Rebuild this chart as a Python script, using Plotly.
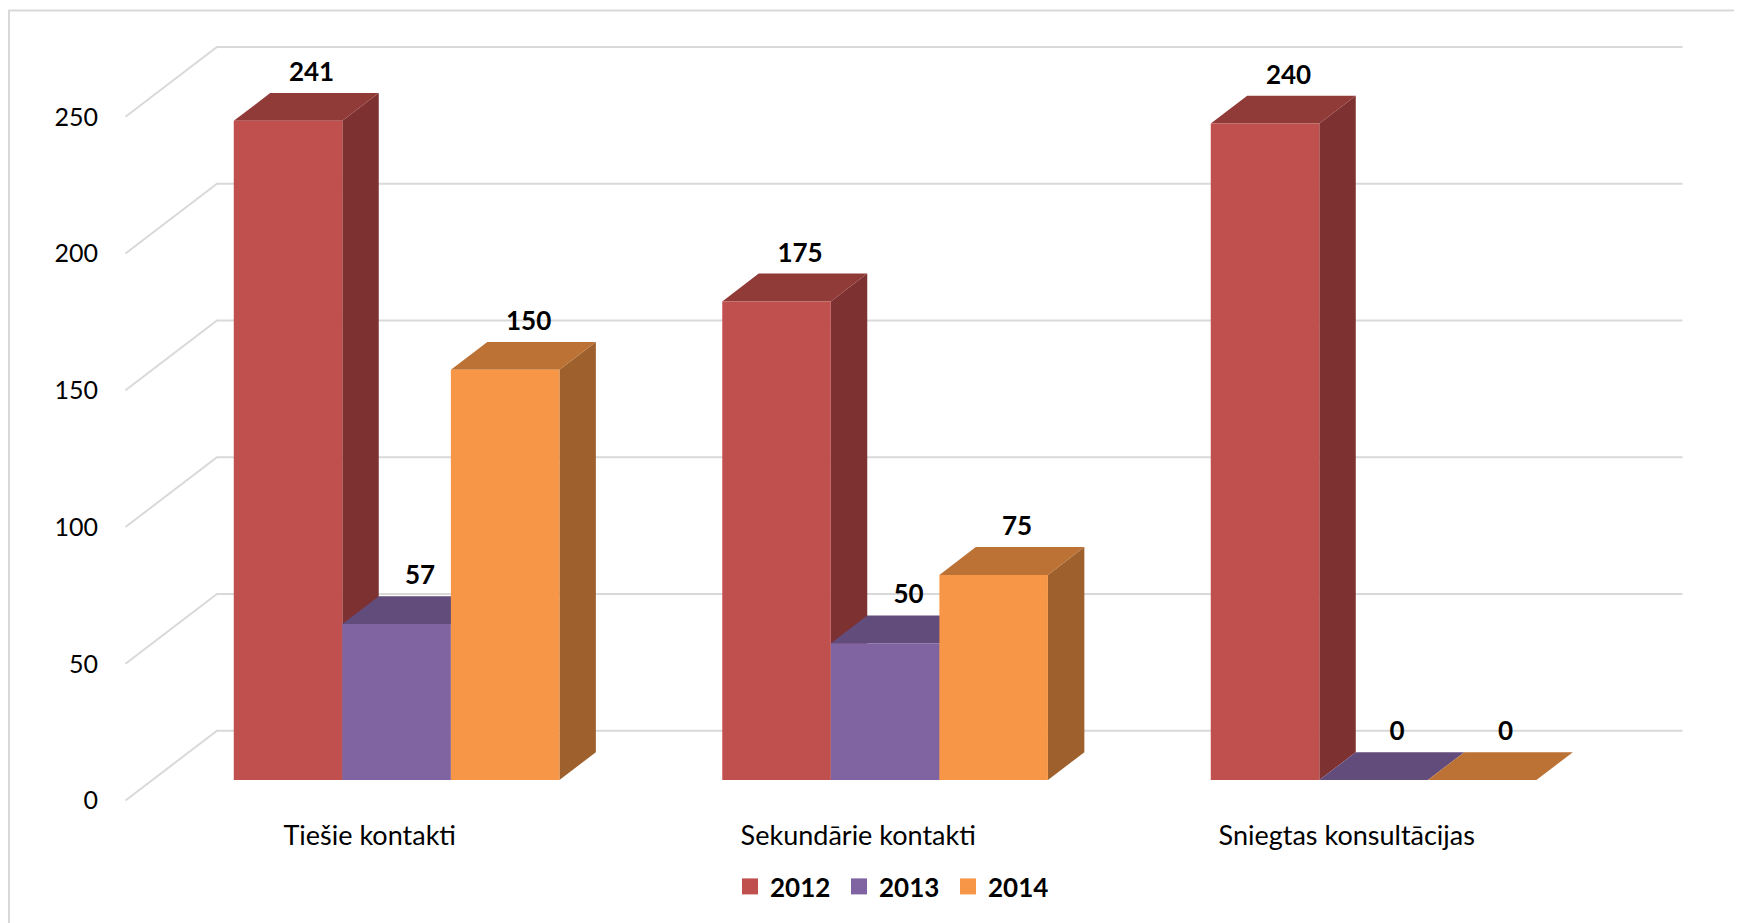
import plotly.graph_objects as go

# ---------------- data ----------------
categories = ["Tiešie kontakti", "Sekundārie kontakti", "Sniegtas konsultācijas"]
series_names = ["2012", "2013", "2014"]
values_2012 = [241, 175, 240]
values_2013 = [57, 50, 0]
values_2014 = [150, 75, 0]
y_ticks = [0, 50, 100, 150, 200, 250]
y_tick_labels = ["0", "50", "100", "150", "200", "250"]

# ---------------- style ----------------
front_colors = ["#C0504D", "#8064A2", "#F79646"]
top_colors = ["#913B39", "#624C7C", "#BC7234"]
side_colors = ["#7D3130", "#53406B", "#9E602C"]
grid_color = "#D9D9D9"
FONT = "Lato, 'Open Sans', sans-serif"

W, H = 1742, 923
OFF = 8            # page margin offset of the figure inside the window
K = 2.735          # pixels per value unit
Y0PX = 800.5       # pixel row of value 0 on the front plane (window coords)
SLANT = 1.31       # horizontal px per vertical px of depth
AX0 = 125.5        # left of category axis (front plane)
AXW = 488.5        # width of one category (front plane)
BW = AXW / 4.5     # bar width (gap width 150%)
D_BAR_F = 20.5     # depth (px) of bar front faces
D_BAR_B = 48.3     # depth (px) of bar back faces
D_WALL = 69.8      # depth (px) of back wall


def proj(x, v, d):
    return x + d * SLANT, v + d / K


series_values = [values_2012, values_2013, values_2014]

fig = go.Figure()

# gridlines (floor diagonal + back wall)
gx, gy = [], []
for v in y_ticks:
    for (px, pv, pd) in [(AX0, v, 0), (AX0, v, D_WALL), (AX0 + 3 * AXW, v, D_WALL)]:
        X, Y = proj(px, pv, pd)
        gx.append(X)
        gy.append(Y)
    gx.append(None)
    gy.append(None)
fig.add_trace(go.Scatter(x=gx, y=gy, mode="lines", line=dict(color=grid_color, width=2),
                         hoverinfo="skip", showlegend=False))


def poly(points, xs, ys):
    for (px, pv, pd) in points:
        X, Y = proj(px, pv, pd)
        xs.append(X)
        ys.append(Y)
    X, Y = proj(*points[0])
    xs.append(X)
    ys.append(Y)
    xs.append(None)
    ys.append(None)


F, B = D_BAR_F, D_BAR_B
for s, vals in enumerate(series_values):
    sx, sy, tx, ty, fx, fy = [], [], [], [], [], []
    for c, v in enumerate(vals):
        xl = AX0 + c * AXW + 0.75 * BW + s * BW
        xr = xl + BW
        poly([(xr, 0, F), (xr, v, F), (xr, v, B), (xr, 0, B)], sx, sy)
        poly([(xl, v, F), (xr, v, F), (xr, v, B), (xl, v, B)], tx, ty)
        poly([(xl, 0, F), (xr, 0, F), (xr, v, F), (xl, v, F)], fx, fy)
    for xs, ys, col in [(sx, sy, side_colors[s]), (tx, ty, top_colors[s]), (fx, fy, front_colors[s])]:
        fig.add_trace(go.Scatter(x=xs, y=ys, mode="lines", fill="toself", fillcolor=col,
                                 line=dict(width=0, color=col), hoverinfo="skip", showlegend=False))

# data labels
for s, vals in enumerate(series_values):
    lx, ly, lt = [], [], []
    for c, v in enumerate(vals):
        xc = AX0 + c * AXW + 0.75 * BW + s * BW + BW / 2
        X, _ = proj(xc, v, (F + B) / 2 + 4)
        _, Y = proj(xc, v, B)
        lx.append(X)
        ly.append(Y + 18.5 / K)
        lt.append(str(v))
    fig.add_trace(go.Scatter(x=lx, y=ly, mode="text", text=lt, textposition="middle center",
                             textfont=dict(family=FONT, size=26, color="#000000", weight="bold"),
                             hoverinfo="skip", showlegend=False))

# category labels
cx = [AX0 + (c + 0.5) * AXW for c in range(len(categories))]
cy = [(Y0PX - 838) / K] * len(categories)
fig.add_trace(go.Scatter(x=cx, y=cy, mode="text", text=categories, textposition="middle center",
                         textfont=dict(family=FONT, size=27, color="#000000"),
                         hoverinfo="skip", showlegend=False))

# legend entries
for s, name in enumerate(series_names):
    fig.add_trace(go.Scatter(x=[None], y=[None], mode="markers", name=name,
                             marker=dict(symbol="square", size=16, color=front_colors[s])))

fig.update_layout(
    width=W, height=H,
    margin=dict(l=0, r=0, t=0, b=0),
    paper_bgcolor="white", plot_bgcolor="white",
    xaxis=dict(range=[OFF, W + OFF], visible=False, fixedrange=True),
    yaxis=dict(range=[(Y0PX - H - OFF) / K, (Y0PX - OFF) / K], anchor="free",
               position=(124 - OFF) / W,
               tickvals=y_ticks, ticktext=y_tick_labels, showgrid=False, zeroline=False,
               showline=False, ticks="", ticklabelstandoff=26,
               tickfont=dict(family=FONT, size=25, color="#000000"), fixedrange=True),
    showlegend=True,
    legend=dict(orientation="h", x=(730 - OFF) / W, xanchor="left",
                y=1 - (886.5 - OFF) / H, yanchor="middle",
                font=dict(family=FONT, size=26, color="#000000", weight="bold"),
                bgcolor="rgba(0,0,0,0)", itemclick=False, itemdoubleclick=False,
                entrywidth=64, entrywidthmode="pixels"),
    shapes=[dict(type="rect", xref="paper", yref="paper", x0=1 / W, x1=1 + 10 / W,
                 y0=-10 / H, y1=1 - 2.5 / H, line=dict(color=grid_color, width=2),
                 fillcolor="rgba(0,0,0,0)", layer="below")],
)

fig.write_html("out.html")
